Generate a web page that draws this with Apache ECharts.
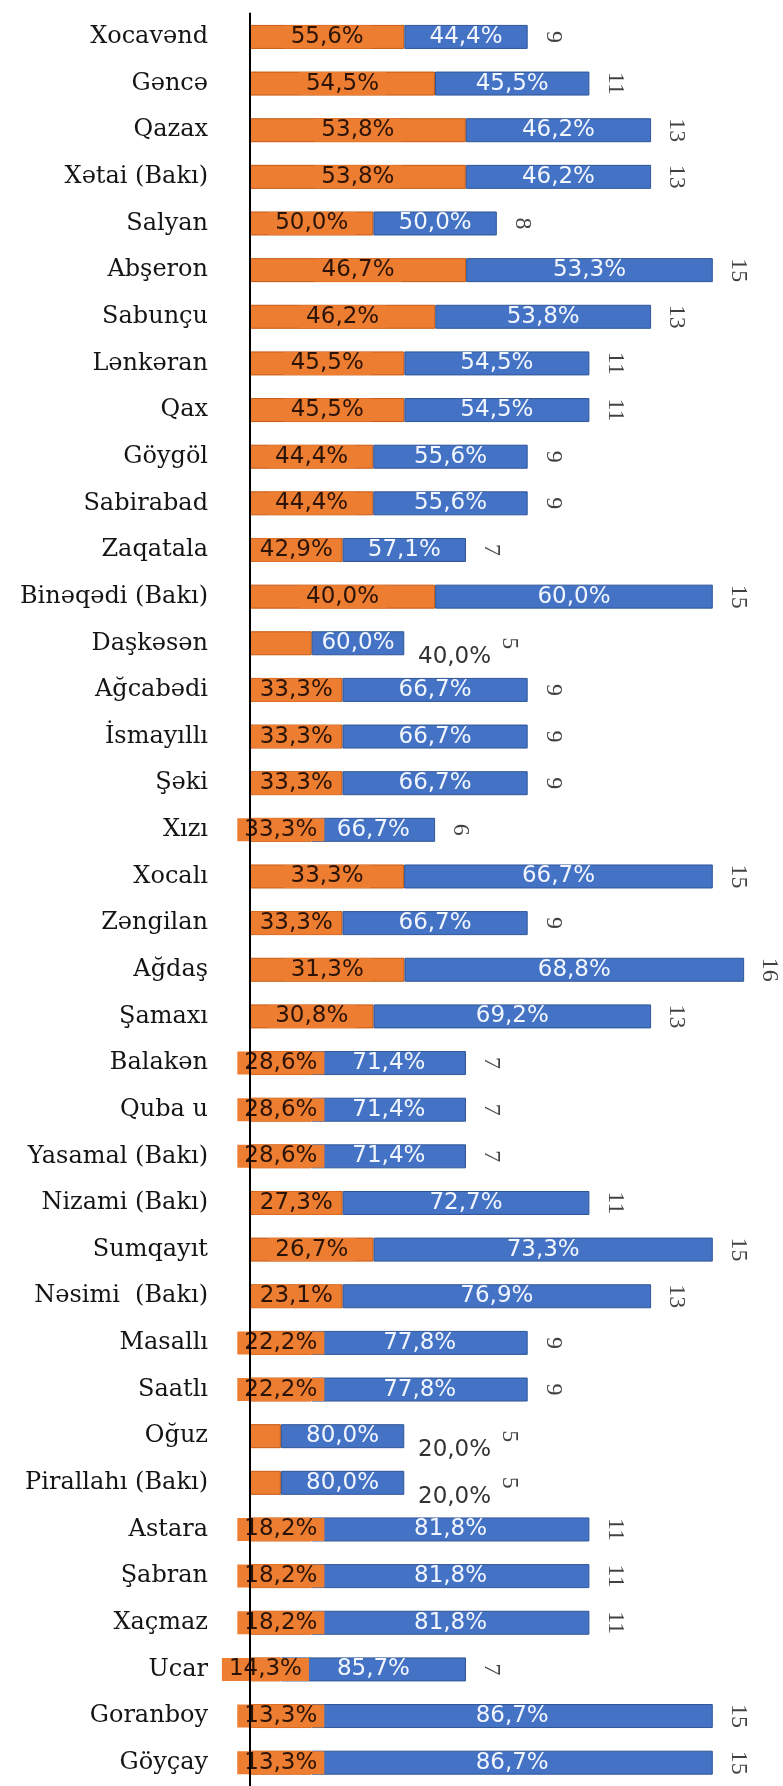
<!DOCTYPE html>
<html>
<head>
<meta charset="utf-8">
<script src="https://cdn.jsdelivr.net/npm/echarts@6/dist/echarts.min.js"></script>
<style>
html,body{margin:0;padding:0;background:#fff;}
#chart{width:783px;height:1786px;}
</style>
</head>
<body>
<div id="chart"></div>
<script>
const categories = ['Xocavənd','Gəncə','Qazax','Xətai (Bakı)','Salyan','Abşeron','Sabunçu','Lənkəran','Qax','Göygöl','Sabirabad','Zaqatala','Binəqədi (Bakı)','Daşkəsən','Ağcabədi','İsmayıllı','Şəki','Xızı','Xocalı','Zəngilan','Ağdaş','Şamaxı','Balakən','Quba u','Yasamal (Bakı)','Nizami (Bakı)','Sumqayıt','Nəsimi  (Bakı)','Masallı','Saatlı','Oğuz','Pirallahı (Bakı)','Astara','Şabran','Xaçmaz','Ucar','Goranboy','Göyçay'];
const orangePct = [55.6,54.5,53.8,53.8,50.0,46.7,46.2,45.5,45.5,44.4,44.4,42.9,40.0,40.0,33.3,33.3,33.3,33.3,33.3,33.3,31.3,30.8,28.6,28.6,28.6,27.3,26.7,23.1,22.2,22.2,20.0,20.0,18.2,18.2,18.2,14.3,13.3,13.3];
const bluePct = [44.4,45.5,46.2,46.2,50.0,53.3,53.8,54.5,54.5,55.6,55.6,57.1,60.0,60.0,66.7,66.7,66.7,66.7,66.7,66.7,68.8,69.2,71.4,71.4,71.4,72.7,73.3,76.9,77.8,77.8,80.0,80.0,81.8,81.8,81.8,85.7,86.7,86.7];
const totals = [9,11,13,13,8,15,13,11,11,9,9,7,15,5,9,9,9,6,15,9,16,13,7,7,7,11,15,13,9,9,5,5,11,11,11,7,15,15];
const outsideLabelRows = ['Daşkəsən','Oğuz','Pirallahı (Bakı)'];

const fmt = v => v.toFixed(1).replace('.', ',') + '%';
const isOutside = i => outsideLabelRows.indexOf(categories[i]) >= 0;

const chart = echarts.init(document.getElementById('chart'), null, {renderer: 'canvas'});
const pctFont = 'DejaVu Sans';

chart.setOption({
  animation: false,
  backgroundColor: '#ffffff',
  grid: {left: 250, top: 13.6, width: 524.5, height: 38 * 46.8, containLabel: false},
  xAxis: {type: 'value', min: 0, max: 17, show: false},
  yAxis: {
    type: 'category', data: categories, inverse: true, z: 5,
    axisTick: {show: false},
    axisLine: {show: true, lineStyle: {color: '#000', width: 2}},
    axisLabel: {fontFamily: 'DejaVu Serif', fontSize: 24, color: '#141414', margin: 42}
  },
  series: [
    {
      name: 'orange', type: 'bar', stack: 'a', barWidth: 24,
      itemStyle: {color: '#ED7D31', borderColor: '#C65911', borderWidth: 1},
      label: {
        show: true, position: 'inside', fontFamily: pctFont, fontSize: 23,
        color: '#2b1406', backgroundColor: '#ED7D31', padding: [0, 7],
        formatter: p => fmt(orangePct[p.dataIndex])
      },
      data: categories.map((c, i) => {
        const item = {value: totals[i] * orangePct[i] / 100};
        if (isOutside(i)) {
          item.label = {position: [168, 26], align: 'left', verticalAlign: 'middle',
            color: '#333333', backgroundColor: 'transparent', padding: 0};
        }
        return item;
      })
    },
    {
      name: 'blue', type: 'bar', stack: 'a', barWidth: 24,
      itemStyle: {color: '#4472C4', borderColor: '#2F5597', borderWidth: 1},
      label: {
        show: true, position: 'inside', fontFamily: pctFont, fontSize: 23,
        color: '#F2F6FF', formatter: p => fmt(bluePct[p.dataIndex])
      },
      data: categories.map((c, i) => totals[i] * bluePct[i] / 100)
    },
    {
      name: 'total', type: 'scatter', symbolSize: 1,
      itemStyle: {color: 'rgba(0,0,0,0)'},
      label: {
        show: true, position: 'right', distance: 25, rotate: -90,
        align: 'center', verticalAlign: 'middle',
        fontFamily: 'Liberation Serif', fontSize: 24, color: '#111111',
        formatter: p => String(totals[p.dataIndex])
      },
      data: totals.map((t, i) => {
        const item = {value: [t, categories[i]]};
        if (isOutside(i)) item.label = {distance: 100, offset: [0, -5]};
        return item;
      })
    }
  ]
});
</script>
</body>
</html>
